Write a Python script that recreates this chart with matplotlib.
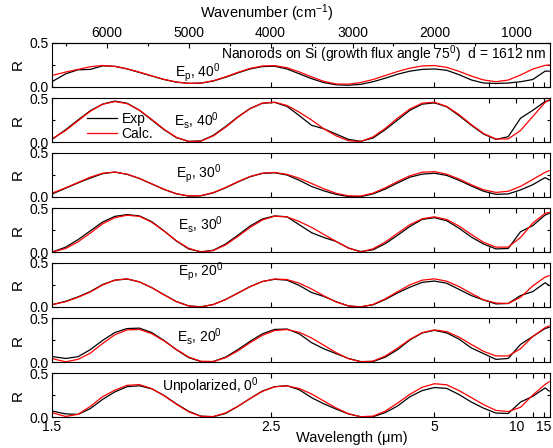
import matplotlib
matplotlib.use('Agg')
import matplotlib.pyplot as plt
from matplotlib.ticker import FixedLocator
from matplotlib.lines import Line2D

plt.rcParams['font.family'] = ['Liberation Sans', 'DejaVu Sans']
plt.rcParams['mathtext.default'] = 'regular'

# wavenumber grid (cm-1), shared by all curves
wn = [6650, 6500, 6350, 6200, 6050, 5900, 5750, 5600, 5450, 5300, 5150, 5000,
      4850, 4700, 4550, 4400, 4250, 4100, 3950, 3800, 3650, 3500, 3350, 3200,
      3050, 2900, 2750, 2600, 2450, 2300, 2150, 2000, 1850, 1700, 1550, 1400,
      1250, 1100, 950, 800, 650, 600]

# Ep, 40 deg
exp_p40 = [0.07, 0.15, 0.195, 0.20, 0.24, 0.235, 0.205, 0.165, 0.125, 0.085, 0.055, 0.042,
           0.043, 0.068, 0.11, 0.16, 0.205, 0.232, 0.236, 0.205, 0.15, 0.095, 0.05, 0.025,
           0.02, 0.03, 0.06, 0.10, 0.145, 0.18, 0.2, 0.205, 0.19, 0.14, 0.08, 0.045,
           0.04, 0.045, 0.06, 0.085, 0.18, 0.18]
calc_p40 = [0.135, 0.17, 0.20, 0.23, 0.245, 0.234, 0.207, 0.169, 0.127, 0.087, 0.057, 0.041,
            0.045, 0.071, 0.115, 0.166, 0.211, 0.239, 0.243, 0.219, 0.171, 0.115, 0.064, 0.034,
            0.032, 0.051, 0.085, 0.13, 0.176, 0.214, 0.239, 0.244, 0.223, 0.178, 0.124, 0.08,
            0.06, 0.079, 0.136, 0.204, 0.246, 0.25]

# Es, 40 deg
exp_s40 = [0.04, 0.14, 0.25, 0.355, 0.43, 0.465, 0.44, 0.36, 0.25, 0.14, 0.05, 0.007,
           0.012, 0.075, 0.175, 0.285, 0.38, 0.44, 0.45, 0.405, 0.30, 0.19, 0.15, 0.09,
           0.03, 0.008, 0.045, 0.14, 0.25, 0.36, 0.43, 0.445, 0.40, 0.30, 0.19, 0.09,
           0.03, 0.06, 0.27, 0.36, 0.46, 0.47]
calc_s40 = [0.045, 0.131, 0.241, 0.349, 0.429, 0.46, 0.436, 0.362, 0.257, 0.145, 0.054, 0.005,
            0.01, 0.069, 0.167, 0.28, 0.38, 0.442, 0.452, 0.415, 0.339, 0.25, 0.15, 0.07,
            0.015, 0.005, 0.058, 0.155, 0.271, 0.375, 0.441, 0.452, 0.404, 0.311, 0.198, 0.096,
            0.034, 0.035, 0.13, 0.29, 0.45, 0.48]

# Ep, 30 deg
exp_p30 = [0.04, 0.10, 0.16, 0.215, 0.265, 0.283, 0.258, 0.21, 0.148, 0.086, 0.036, 0.01,
           0.013, 0.047, 0.104, 0.17, 0.23, 0.268, 0.275, 0.25, 0.19, 0.12, 0.07, 0.03,
           0.005, 0.005, 0.035, 0.09, 0.16, 0.225, 0.26, 0.27, 0.245, 0.19, 0.125, 0.065,
           0.03, 0.035, 0.08, 0.14, 0.22, 0.195]
calc_p30 = [0.05, 0.105, 0.165, 0.225, 0.27, 0.283, 0.259, 0.211, 0.15, 0.088, 0.038, 0.012,
            0.016, 0.05, 0.107, 0.174, 0.233, 0.271, 0.279, 0.258, 0.213, 0.154, 0.093, 0.042,
            0.013, 0.011, 0.044, 0.104, 0.176, 0.241, 0.282, 0.288, 0.259, 0.204, 0.139, 0.082,
            0.052, 0.065, 0.12, 0.2, 0.28, 0.30]

# Es, 30 deg
exp_s30 = [0.005, 0.055, 0.14, 0.24, 0.34, 0.405, 0.425, 0.41, 0.345, 0.24, 0.125, 0.035,
           0.002, 0.02, 0.09, 0.19, 0.295, 0.375, 0.41, 0.40, 0.31, 0.22, 0.165, 0.12,
           0.045, 0.005, 0.025, 0.095, 0.19, 0.29, 0.37, 0.39, 0.355, 0.27, 0.17, 0.09,
           0.035, 0.04, 0.23, 0.3, 0.42, 0.44]
calc_s30 = [0.003, 0.04, 0.115, 0.215, 0.32, 0.39, 0.418, 0.405, 0.339, 0.238, 0.129, 0.042,
            0.001, 0.016, 0.08, 0.176, 0.279, 0.364, 0.407, 0.399, 0.347, 0.28, 0.2, 0.12,
            0.045, 0.001, 0.036, 0.113, 0.213, 0.31, 0.378, 0.40, 0.369, 0.295, 0.199, 0.11,
            0.055, 0.056, 0.165, 0.329, 0.439, 0.45]

# Ep, 20 deg
exp_p20 = [0.03, 0.065, 0.115, 0.175, 0.255, 0.305, 0.318, 0.285, 0.22, 0.14, 0.062, 0.013,
           0.002, 0.028, 0.085, 0.158, 0.232, 0.29, 0.315, 0.305, 0.245, 0.165, 0.12, 0.06,
           0.012, 0.002, 0.025, 0.085, 0.16, 0.225, 0.28, 0.295, 0.27, 0.2, 0.13, 0.08,
           0.035, 0.04, 0.13, 0.175, 0.275, 0.245]
calc_p20 = [0.03, 0.06, 0.11, 0.17, 0.25, 0.305, 0.32, 0.286, 0.22, 0.138, 0.061, 0.012,
            0.001, 0.028, 0.084, 0.157, 0.231, 0.289, 0.318, 0.312, 0.271, 0.205, 0.127, 0.058,
            0.012, 0.001, 0.029, 0.093, 0.174, 0.252, 0.305, 0.32, 0.293, 0.232, 0.154, 0.081,
            0.045, 0.04, 0.11, 0.24, 0.34, 0.355]

# Es, 20 deg
exp_s20 = [0.06, 0.04, 0.06, 0.14, 0.245, 0.335, 0.38, 0.385, 0.335, 0.245, 0.14, 0.05,
           0.005, 0.005, 0.055, 0.14, 0.235, 0.32, 0.37, 0.375, 0.32, 0.22, 0.15, 0.095,
           0.04, 0.005, 0.005, 0.055, 0.14, 0.25, 0.33, 0.36, 0.33, 0.26, 0.16, 0.095,
           0.03, 0.04, 0.2, 0.29, 0.38, 0.395]
calc_s20 = [0.035, 0.002, 0.03, 0.1, 0.21, 0.31, 0.365, 0.37, 0.322, 0.24, 0.143, 0.058,
            0.008, 0.005, 0.048, 0.126, 0.219, 0.303, 0.357, 0.369, 0.338, 0.273, 0.19, 0.107,
            0.038, 0.003, 0.01, 0.068, 0.158, 0.257, 0.334, 0.365, 0.345, 0.283, 0.199, 0.121,
            0.069, 0.069, 0.15, 0.29, 0.39, 0.41]

# unpolarized, 0 deg
exp_u0 = [0.065, 0.035, 0.03, 0.095, 0.2, 0.285, 0.345, 0.355, 0.32, 0.245, 0.15, 0.065,
          0.01, 0.003, 0.04, 0.12, 0.21, 0.295, 0.345, 0.355, 0.31, 0.22, 0.15, 0.09,
          0.035, 0.003, 0.003, 0.05, 0.125, 0.23, 0.3, 0.335, 0.325, 0.255, 0.17, 0.1,
          0.045, 0.04, 0.17, 0.235, 0.33, 0.295]
calc_u0 = [0.045, 0.006, 0.03, 0.12, 0.23, 0.305, 0.36, 0.368, 0.323, 0.243, 0.146, 0.059,
           0.007, 0.005, 0.046, 0.121, 0.209, 0.291, 0.343, 0.354, 0.324, 0.262, 0.182, 0.103,
           0.037, 0.003, 0.01, 0.067, 0.158, 0.258, 0.338, 0.378, 0.366, 0.3, 0.221, 0.14,
           0.075, 0.062, 0.11, 0.25, 0.37, 0.40]

labels = [r'E$_p$, 40$^0$', r'E$_s$, 40$^0$', r'E$_p$, 30$^0$', r'E$_s$, 30$^0$',
          r'E$_p$, 20$^0$', r'E$_s$, 20$^0$', r'Unpolarized, 0$^0$']
exps = [exp_p40, exp_s40, exp_p30, exp_s30, exp_p20, exp_s20, exp_u0]
calcs = [calc_p40, calc_s40, calc_p30, calc_s30, calc_p20, calc_s20, calc_u0]

wl_ticks = [1.5, 2.5, 5, 7.5, 10, 12.5, 15]
wl_labels = ['1.5', '2.5', '5', '', '10', '', '15']
wn_ticks = [6000, 5000, 4000, 3000, 2000, 1000]
wn_minor = [6500, 5500, 4500, 3500, 2500, 1500]

# label anchors (wavenumber, R) for each panel
label_pos = [(4890, 0.116), (4900, 0.186), (4880, 0.224), (4860, 0.25),
             (4850, 0.36), (4870, 0.23), (4740, 0.30)]

W, H = 553, 448
x0, x1 = 52, 550
fig = plt.figure(figsize=(W / 100, H / 100), dpi=100)

for i in range(7):
    top = 43 + i * 55
    ax = fig.add_axes([x0 / W, 1 - (top + 44) / H, (x1 - x0) / W, 44 / H])
    ax.plot(wn, exps[i], color='black', lw=0.9, label='Exp')
    ax.plot(wn, calcs[i], color='red', lw=0.9, label='Calc.')
    ax.set_xlim(6667, 590)
    ax.set_ylim(0, 0.5)

    ax.set_yticks([0, 0.5])
    ax.set_yticklabels(['0.0', '0.5'])
    ax.yaxis.set_minor_locator(FixedLocator([0.25]))
    ax.set_xticks([1e4 / w for w in wl_ticks])
    ax.set_xticklabels(wl_labels)
    ax.tick_params(which='both', direction='in', left=True, right=True,
                   top=(i > 0), bottom=True, labelsize=10, pad=2)
    ax.tick_params(which='major', length=3.5, width=0.8)
    ax.tick_params(which='minor', length=2, width=0.8)
    if i < 6:
        ax.tick_params(labelbottom=False)
    ax.set_ylabel('R', fontsize=11, labelpad=4)

    lx, ly = label_pos[i]
    ax.text(lx, ly, labels[i], fontsize=10, ha='center', va='baseline')

    if i == 0:
        sec = ax.secondary_xaxis('top')
        sec.set_xticks(wn_ticks)
        sec.xaxis.set_minor_locator(FixedLocator(wn_minor))
        sec.tick_params(which='both', direction='in', labelsize=10, pad=2)
        sec.tick_params(which='major', length=3.5, width=0.8)
        sec.tick_params(which='minor', length=2, width=0.8)
        ax.text(640, 0.32, r'Nanorods on Si (growth flux angle 75$^0$)  d = 1612 nm',
                fontsize=10, ha='right', va='baseline')
    if i == 1:
        ax.legend(loc='center left', bbox_to_anchor=(0.07, 0.36), frameon=False,
                  fontsize=10, borderpad=0, borderaxespad=0, handlelength=2.2,
                  handletextpad=0.3, labelspacing=0.05)

fig.text(267 / W, 1 - 13 / H, 'Wavenumber (cm$^{-1}$)', fontsize=10.5,
         ha='center', va='center')
fig.text(352 / W, 1 - 438 / H, 'Wavelength (\u03bcm)', fontsize=10.5,
         ha='center', va='center')

fig.savefig('out.png', dpi=100)
